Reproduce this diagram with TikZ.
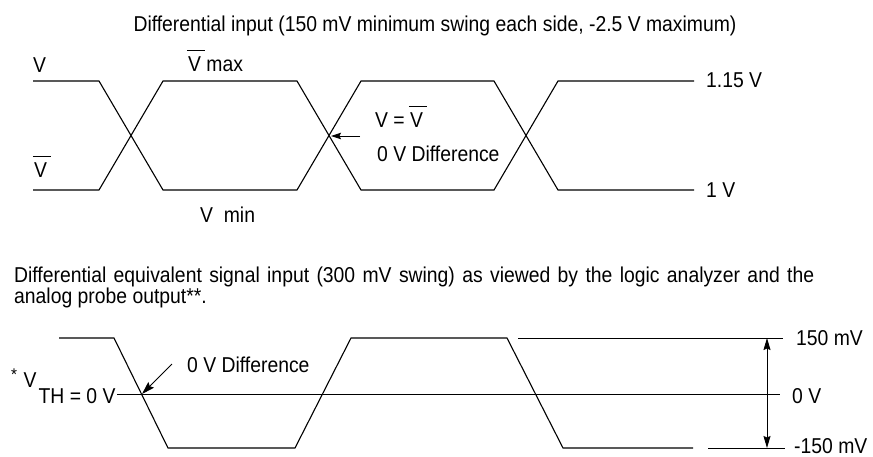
\documentclass[tikz,border=0pt]{standalone}
\usepackage{fontspec}
\setmainfont{Liberation Sans}[FakeStretch=0.9]
\usetikzlibrary{arrows.meta}
\newcommand{\Vbar}{\rlap{\hspace{-0.06em}\rule[0.92em]{0.82em}{0.07em}}V}
\begin{document}
\begin{tikzpicture}[x=1pt,y=-1pt,
  lbl/.style={inner sep=0pt, anchor=base west, font=\fontsize{21.5}{25}\selectfont},
  sig/.style={line width=1.1pt, line join=miter},
  refl/.style={line width=0.75pt},
  arr/.style={line width=0.9pt, -{Stealth[length=10pt,width=6.5pt,inset=1.5pt]}},
  darr/.style={line width=0.9pt, {Stealth[length=12pt,width=7pt,inset=1.5pt]}-{Stealth[length=12pt,width=7pt,inset=1.5pt]}}]
\useasboundingbox (0,0) rectangle (873,456);

% ---------- top section ----------
\node[lbl, anchor=base] (title) at (435,31) {Differential input (150 mV minimum swing each side, -2.5 V maximum)};

% V (true) signal
\draw[sig] (33,81) -- (99,81) -- (163,190) -- (297,190) -- (361,81) -- (494,81) -- (558,190) -- (694,190);
% V-bar signal
\draw[sig] (33,190) -- (99,190) -- (163,81) -- (297,81) -- (361,190) -- (494,190) -- (558,81) -- (694,81);

\node[lbl] (lv) at (33,72) {V};
\node[lbl] (lvb) at (34,177) {\Vbar};
\node[lbl] (lvmax) at (188,71) {\Vbar\ max};
\node[lbl] (lvmin) at (200,222) {V\ \ min};
\node[lbl] (leq) at (375,127) {V = \Vbar};
\node[lbl] (ldiff1) at (377,161) {0 V Difference};
\node[lbl] (l115) at (706,87) {1.15 V};
\node[lbl] (l1) at (706,197) {1 V};

\coordinate (x2) at (331,136);
\coordinate (a1) at (360,136);
\draw[arr] (a1) -- (x2);

% ---------- bottom section ----------
\node[lbl] (p1) at (14,282) {\makebox[800pt][s]{Differential equivalent signal input (300 mV swing) as viewed by the logic analyzer and the}};
\node[lbl] (p2) at (14,303) {analog probe output**.};

\draw[sig] (59,338) -- (114,338) -- (168,448) -- (295,448) -- (351,338) -- (507,338) -- (563,448) -- (693,448);

\coordinate (zL) at (117,394);
\coordinate (zR) at (780,394);
\draw[refl] (zL) -- (zR);
\coordinate (tL) at (518,338);
\coordinate (tR) at (783,338);
\draw[refl] (tL) -- (tR);
\coordinate (bL) at (708,448);
\coordinate (bR) at (785,448);
\draw[refl] (bL) -- (bR);

\coordinate (vt) at (767,338);
\coordinate (vb) at (767,448);
\draw[darr] (vt) -- (vb);

\node[lbl] (vth) at (11,387) {\raisebox{0.3em}{\fontsize{17}{17}\selectfont *}\hspace{0.3em}V\hspace{0.1em}\raisebox{-0.75em}{TH = 0 V}};
\node[lbl] (ldiff2) at (187,372) {0 V Difference};
\coordinate (xc) at (142,394);
\coordinate (a2) at (172,364);
\draw[arr, -{Stealth[length=13pt,width=8pt,inset=2pt]}] (a2) -- (xc);

\node[lbl] (l150) at (796,345) {150 mV};
\node[lbl] (l0) at (792,403) {0 V};
\node[lbl] (lm150) at (794,453) {-150 mV};
\end{tikzpicture}
\end{document}
